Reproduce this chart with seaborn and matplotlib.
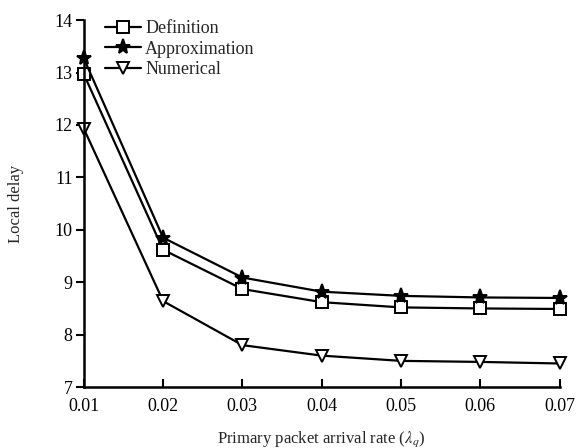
import numpy as np
import matplotlib
matplotlib.use("Agg")
import matplotlib.pyplot as plt
import seaborn as sns
import pandas as pd

# Data
rates = [0.01, 0.02, 0.03, 0.04, 0.05, 0.06, 0.07]
definition = [12.97, 9.62, 8.87, 8.62, 8.52, 8.50, 8.49]
approximation = [13.27, 9.85, 9.09, 8.82, 8.74, 8.71, 8.70]
numerical = [11.93, 8.64, 7.80, 7.60, 7.50, 7.48, 7.45]
series_names = ["Definition", "Approximation", "Numerical"]
y_ticks = [7, 8, 9, 10, 11, 12, 13, 14]

df = pd.DataFrame({
    "rate": rates * 3,
    "delay": definition + approximation + numerical,
    "series": sum([[n] * len(rates) for n in series_names], []),
})

sns.set_style("ticks")
plt.rcParams["font.family"] = ["Liberation Serif", "DejaVu Serif"]
plt.rcParams["mathtext.fontset"] = "stix"

fig, ax = plt.subplots(figsize=(5.78, 4.48), dpi=100)
markers = {"Definition": "s", "Approximation": "*", "Numerical": "v"}
styles = {
    "Definition": dict(mfc="white", ms=8),
    "Approximation": dict(mfc="black", ms=11),
    "Numerical": dict(mfc="white", ms=9),
}
for name in series_names:
    sub = df[df["series"] == name]
    sns.lineplot(data=sub, x="rate", y="delay", ax=ax, color="black",
                 marker=markers[name], mec="black", mew=1.4, lw=1.6,
                 label=name, clip_on=False, **styles[name])

ax.set_xlim(0.01, 0.07)
ax.set_ylim(7, 14)
ax.set_xticks(rates)
ax.set_xticklabels([f"{r:.2f}" for r in rates])
ax.set_yticks(y_ticks)
ax.tick_params(axis="x", direction="in", length=6, width=1.5, labelsize=13, pad=8,
               colors="black")
ax.tick_params(axis="y", direction="out", length=6, width=1.5, labelsize=13, pad=2,
               colors="black")
for s in ["top", "right"]:
    ax.spines[s].set_visible(False)
for s in ["left", "bottom"]:
    ax.spines[s].set_linewidth(1.8)
    ax.spines[s].set_color("black")

ax.set_xlabel(r"Primary packet arrival rate ($\lambda_q$)", fontsize=12, labelpad=10)
ax.set_ylabel("Local delay", fontsize=12, labelpad=22)
ax.legend(loc="upper left", bbox_to_anchor=(0.03, 1.02), frameon=False,
          fontsize=13, handlelength=2.0, handletextpad=0.2, labelspacing=0.2,
          borderaxespad=0)

fig.subplots_adjust(left=0.145, right=0.968, top=0.955, bottom=0.136)
fig.savefig("out.png", dpi=100)
